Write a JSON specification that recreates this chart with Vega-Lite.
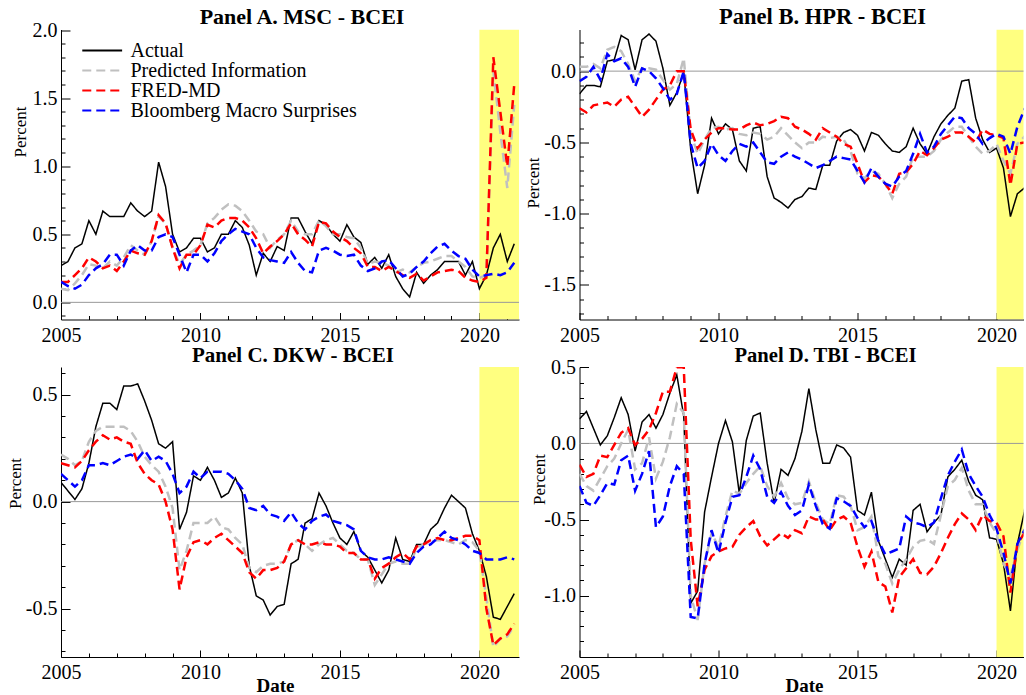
{
"$schema": "https://vega.github.io/schema/vega-lite/v6.json",
"background": "white",
"padding": {"left": 6, "top": 5.5, "right": 0, "bottom": 0},
"columns": 2,
"spacing": {"row": 47.5, "column": 60.5},
"bounds": "flush",
"resolve": {"scale": {"color": "independent", "strokeDash": "independent"}},
"config": {
 "view": {"stroke": null},
 "axis": {"domainColor": "#000000", "domainWidth": 1, "tickColor": "#000000", "tickWidth": 1, "labelColor": "#000000", "labelFont": "Liberation Serif", "labelFontSize": 20, "grid": false, "labelOverlap": false, "labelFlush": false, "labelBound": false, "titleFont": "Liberation Serif", "titleColor": "#000000"},
 "axisX": {"labelPadding": 12.5},
 "axisY": {"labelPadding": 13},
 "title": {"font": "Liberation Serif", "fontSize": 21, "fontWeight": "bold", "color": "#000000", "frame": "group", "anchor": "middle", "baseline": "alphabetic"}
},
"datasets": {
"A": [
{"t":2005,"a":0.27,"g":0.10,"r":0.15,"b":0.15},
{"t":2005.25,"a":0.30,"g":0.09,"r":0.15,"b":0.12},
{"t":2005.5,"a":0.40,"g":0.14,"r":0.20,"b":0.10},
{"t":2005.75,"a":0.43,"g":0.20,"r":0.25,"b":0.13},
{"t":2006,"a":0.60,"g":0.28,"r":0.33,"b":0.20},
{"t":2006.25,"a":0.50,"g":0.27,"r":0.30,"b":0.25},
{"t":2006.5,"a":0.67,"g":0.25,"r":0.25,"b":0.28},
{"t":2006.75,"a":0.63,"g":0.30,"r":0.27,"b":0.35},
{"t":2007,"a":0.63,"g":0.27,"r":0.23,"b":0.35},
{"t":2007.25,"a":0.63,"g":0.33,"r":0.30,"b":0.27},
{"t":2007.5,"a":0.73,"g":0.42,"r":0.38,"b":0.38},
{"t":2007.75,"a":0.67,"g":0.38,"r":0.36,"b":0.42},
{"t":2008,"a":0.63,"g":0.35,"r":0.35,"b":0.38},
{"t":2008.25,"a":0.67,"g":0.45,"r":0.45,"b":0.38},
{"t":2008.5,"a":1.03,"g":0.63,"r":0.64,"b":0.48},
{"t":2008.75,"a":0.85,"g":0.58,"r":0.58,"b":0.50},
{"t":2009,"a":0.50,"g":0.40,"r":0.40,"b":0.48},
{"t":2009.25,"a":0.37,"g":0.28,"r":0.25,"b":0.35},
{"t":2009.5,"a":0.40,"g":0.35,"r":0.35,"b":0.22},
{"t":2009.75,"a":0.47,"g":0.38,"r":0.35,"b":0.35},
{"t":2010,"a":0.47,"g":0.42,"r":0.42,"b":0.35},
{"t":2010.25,"a":0.37,"g":0.58,"r":0.57,"b":0.30},
{"t":2010.5,"a":0.40,"g":0.62,"r":0.55,"b":0.36},
{"t":2010.75,"a":0.50,"g":0.68,"r":0.60,"b":0.45},
{"t":2011,"a":0.50,"g":0.72,"r":0.62,"b":0.50},
{"t":2011.25,"a":0.60,"g":0.71,"r":0.62,"b":0.54},
{"t":2011.5,"a":0.55,"g":0.67,"r":0.60,"b":0.52},
{"t":2011.75,"a":0.42,"g":0.60,"r":0.55,"b":0.50},
{"t":2012,"a":0.20,"g":0.52,"r":0.47,"b":0.40},
{"t":2012.25,"a":0.36,"g":0.50,"r":0.36,"b":0.33},
{"t":2012.5,"a":0.30,"g":0.40,"r":0.41,"b":0.31},
{"t":2012.75,"a":0.41,"g":0.46,"r":0.45,"b":0.30},
{"t":2013,"a":0.38,"g":0.50,"r":0.50,"b":0.29},
{"t":2013.25,"a":0.62,"g":0.60,"r":0.58,"b":0.37},
{"t":2013.5,"a":0.62,"g":0.52,"r":0.50,"b":0.29},
{"t":2013.75,"a":0.52,"g":0.50,"r":0.46,"b":0.23},
{"t":2014,"a":0.43,"g":0.50,"r":0.41,"b":0.22},
{"t":2014.25,"a":0.60,"g":0.60,"r":0.59,"b":0.38},
{"t":2014.5,"a":0.57,"g":0.56,"r":0.58,"b":0.40},
{"t":2014.75,"a":0.50,"g":0.50,"r":0.52,"b":0.38},
{"t":2015,"a":0.45,"g":0.50,"r":0.48,"b":0.35},
{"t":2015.25,"a":0.57,"g":0.48,"r":0.45,"b":0.34},
{"t":2015.5,"a":0.48,"g":0.47,"r":0.40,"b":0.35},
{"t":2015.75,"a":0.44,"g":0.40,"r":0.36,"b":0.27},
{"t":2016,"a":0.28,"g":0.28,"r":0.26,"b":0.23},
{"t":2016.25,"a":0.33,"g":0.30,"r":0.26,"b":0.25},
{"t":2016.5,"a":0.25,"g":0.29,"r":0.23,"b":0.30},
{"t":2016.75,"a":0.35,"g":0.27,"r":0.26,"b":0.31},
{"t":2017,"a":0.19,"g":0.22,"r":0.23,"b":0.25},
{"t":2017.25,"a":0.10,"g":0.24,"r":0.20,"b":0.19},
{"t":2017.5,"a":0.04,"g":0.22,"r":0.18,"b":0.21},
{"t":2017.75,"a":0.22,"g":0.26,"r":0.21,"b":0.26},
{"t":2018,"a":0.14,"g":0.29,"r":0.16,"b":0.30},
{"t":2018.25,"a":0.20,"g":0.30,"r":0.19,"b":0.36},
{"t":2018.5,"a":0.24,"g":0.32,"r":0.22,"b":0.41},
{"t":2018.75,"a":0.30,"g":0.34,"r":0.23,"b":0.43},
{"t":2019,"a":0.30,"g":0.34,"r":0.24,"b":0.38},
{"t":2019.25,"a":0.30,"g":0.30,"r":0.23,"b":0.34},
{"t":2019.5,"a":0.20,"g":0.26,"r":0.18,"b":0.32},
{"t":2019.75,"a":0.30,"g":0.19,"r":0.16,"b":0.24},
{"t":2020,"a":0.10,"g":0.18,"r":0.15,"b":0.19},
{"t":2020.25,"a":0.20,"g":0.20,"r":0.18,"b":0.20},
{"t":2020.5,"a":0.40,"g":1.70,"r":1.80,"b":0.21},
{"t":2020.75,"a":0.50,"g":1.25,"r":1.40,"b":0.20},
{"t":2021,"a":0.30,"g":0.84,"r":1.00,"b":0.22},
{"t":2021.25,"a":0.43,"g":1.45,"r":1.60,"b":0.29}
],
"B": [
{"t":2005,"a":-0.16,"g":0.03,"r":-0.26,"b":-0.07},
{"t":2005.25,"a":-0.10,"g":0.03,"r":-0.29,"b":-0.04},
{"t":2005.5,"a":-0.10,"g":0.05,"r":-0.24,"b":0.03},
{"t":2005.75,"a":-0.11,"g":0.02,"r":-0.23,"b":-0.06},
{"t":2006,"a":0.07,"g":0.15,"r":-0.22,"b":0.12},
{"t":2006.25,"a":0.08,"g":0.17,"r":-0.25,"b":0.07},
{"t":2006.5,"a":0.25,"g":0.14,"r":-0.20,"b":0.09},
{"t":2006.75,"a":0.22,"g":0.05,"r":-0.18,"b":0.03},
{"t":2007,"a":0.01,"g":-0.07,"r":-0.25,"b":-0.11},
{"t":2007.25,"a":0.22,"g":0.02,"r":-0.32,"b":0.02},
{"t":2007.5,"a":0.26,"g":0.02,"r":-0.27,"b":0.00},
{"t":2007.75,"a":0.21,"g":0.01,"r":-0.20,"b":-0.05},
{"t":2008,"a":0.02,"g":-0.06,"r":-0.13,"b":-0.12},
{"t":2008.25,"a":-0.24,"g":-0.13,"r":-0.10,"b":-0.20},
{"t":2008.5,"a":-0.15,"g":-0.09,"r":0.00,"b":-0.16},
{"t":2008.75,"a":-0.01,"g":0.09,"r":0.00,"b":0.00},
{"t":2009,"a":-0.55,"g":-0.44,"r":-0.41,"b":-0.51},
{"t":2009.25,"a":-0.86,"g":-0.58,"r":-0.54,"b":-0.68},
{"t":2009.5,"a":-0.66,"g":-0.48,"r":-0.48,"b":-0.63},
{"t":2009.75,"a":-0.33,"g":-0.40,"r":-0.43,"b":-0.51},
{"t":2010,"a":-0.44,"g":-0.39,"r":-0.40,"b":-0.59},
{"t":2010.25,"a":-0.37,"g":-0.41,"r":-0.40,"b":-0.63},
{"t":2010.5,"a":-0.41,"g":-0.40,"r":-0.41,"b":-0.56},
{"t":2010.75,"a":-0.63,"g":-0.44,"r":-0.41,"b":-0.51},
{"t":2011,"a":-0.70,"g":-0.45,"r":-0.38,"b":-0.53},
{"t":2011.25,"a":-0.40,"g":-0.43,"r":-0.36,"b":-0.50},
{"t":2011.5,"a":-0.39,"g":-0.44,"r":-0.38,"b":-0.57},
{"t":2011.75,"a":-0.74,"g":-0.48,"r":-0.37,"b":-0.64},
{"t":2012,"a":-0.89,"g":-0.46,"r":-0.35,"b":-0.65},
{"t":2012.25,"a":-0.92,"g":-0.40,"r":-0.32,"b":-0.60},
{"t":2012.5,"a":-0.96,"g":-0.45,"r":-0.33,"b":-0.57},
{"t":2012.75,"a":-0.90,"g":-0.50,"r":-0.39,"b":-0.60},
{"t":2013,"a":-0.88,"g":-0.54,"r":-0.41,"b":-0.62},
{"t":2013.25,"a":-0.82,"g":-0.50,"r":-0.44,"b":-0.65},
{"t":2013.5,"a":-0.83,"g":-0.50,"r":-0.48,"b":-0.68},
{"t":2013.75,"a":-0.66,"g":-0.46,"r":-0.40,"b":-0.66},
{"t":2014,"a":-0.66,"g":-0.47,"r":-0.43,"b":-0.63},
{"t":2014.25,"a":-0.49,"g":-0.46,"r":-0.46,"b":-0.60},
{"t":2014.5,"a":-0.43,"g":-0.48,"r":-0.51,"b":-0.61},
{"t":2014.75,"a":-0.41,"g":-0.56,"r":-0.53,"b":-0.62},
{"t":2015,"a":-0.45,"g":-0.72,"r":-0.65,"b":-0.70},
{"t":2015.25,"a":-0.56,"g":-0.75,"r":-0.78,"b":-0.78},
{"t":2015.5,"a":-0.43,"g":-0.70,"r":-0.73,"b":-0.68},
{"t":2015.75,"a":-0.45,"g":-0.72,"r":-0.74,"b":-0.74},
{"t":2016,"a":-0.51,"g":-0.79,"r":-0.79,"b":-0.79},
{"t":2016.25,"a":-0.56,"g":-0.89,"r":-0.86,"b":-0.81},
{"t":2016.5,"a":-0.57,"g":-0.79,"r":-0.72,"b":-0.74},
{"t":2016.75,"a":-0.53,"g":-0.74,"r":-0.71,"b":-0.70},
{"t":2017,"a":-0.40,"g":-0.60,"r":-0.65,"b":-0.58},
{"t":2017.25,"a":-0.51,"g":-0.60,"r":-0.56,"b":-0.44},
{"t":2017.5,"a":-0.58,"g":-0.60,"r":-0.59,"b":-0.57},
{"t":2017.75,"a":-0.46,"g":-0.56,"r":-0.54,"b":-0.53},
{"t":2018,"a":-0.37,"g":-0.48,"r":-0.48,"b":-0.44},
{"t":2018.25,"a":-0.31,"g":-0.43,"r":-0.46,"b":-0.38},
{"t":2018.5,"a":-0.26,"g":-0.39,"r":-0.43,"b":-0.32},
{"t":2018.75,"a":-0.07,"g":-0.39,"r":-0.43,"b":-0.33},
{"t":2019,"a":-0.06,"g":-0.46,"r":-0.46,"b":-0.40},
{"t":2019.25,"a":-0.33,"g":-0.53,"r":-0.50,"b":-0.44},
{"t":2019.5,"a":-0.48,"g":-0.58,"r":-0.41,"b":-0.51},
{"t":2019.75,"a":-0.57,"g":-0.56,"r":-0.44,"b":-0.47},
{"t":2020,"a":-0.54,"g":-0.51,"r":-0.45,"b":-0.44},
{"t":2020.25,"a":-0.68,"g":-0.63,"r":-0.47,"b":-0.46},
{"t":2020.5,"a":-1.02,"g":-0.72,"r":-0.80,"b":-0.58},
{"t":2020.75,"a":-0.86,"g":-0.51,"r":-0.51,"b":-0.39},
{"t":2021,"a":-0.82,"g":-0.46,"r":-0.50,"b":-0.27},
{"t":2021.25,"a":-0.83,"g":-0.42,"r":-0.48,"b":-0.30}
],
"C": [
{"t":2005,"a":0.09,"g":0.22,"r":0.18,"b":0.13},
{"t":2005.25,"a":0.05,"g":0.20,"r":0.17,"b":0.10},
{"t":2005.5,"a":0.01,"g":0.17,"r":0.16,"b":0.07},
{"t":2005.75,"a":0.06,"g":0.19,"r":0.19,"b":0.10},
{"t":2006,"a":0.18,"g":0.28,"r":0.24,"b":0.17},
{"t":2006.25,"a":0.35,"g":0.33,"r":0.28,"b":0.17},
{"t":2006.5,"a":0.46,"g":0.35,"r":0.31,"b":0.18},
{"t":2006.75,"a":0.46,"g":0.35,"r":0.29,"b":0.17},
{"t":2007,"a":0.43,"g":0.35,"r":0.30,"b":0.19},
{"t":2007.25,"a":0.54,"g":0.35,"r":0.28,"b":0.21},
{"t":2007.5,"a":0.54,"g":0.33,"r":0.27,"b":0.22},
{"t":2007.75,"a":0.55,"g":0.28,"r":0.18,"b":0.20},
{"t":2008,"a":0.47,"g":0.21,"r":0.13,"b":0.24},
{"t":2008.25,"a":0.38,"g":0.17,"r":0.10,"b":0.19},
{"t":2008.5,"a":0.27,"g":0.14,"r":0.08,"b":0.21},
{"t":2008.75,"a":0.25,"g":0.07,"r":0.00,"b":0.19},
{"t":2009,"a":0.28,"g":-0.03,"r":-0.13,"b":0.13},
{"t":2009.25,"a":-0.13,"g":-0.32,"r":-0.41,"b":0.04},
{"t":2009.5,"a":-0.05,"g":-0.23,"r":-0.26,"b":0.07},
{"t":2009.75,"a":0.12,"g":-0.10,"r":-0.19,"b":0.14},
{"t":2010,"a":0.10,"g":-0.10,"r":-0.18,"b":0.11},
{"t":2010.25,"a":0.16,"g":-0.10,"r":-0.20,"b":0.14},
{"t":2010.5,"a":0.10,"g":-0.07,"r":-0.17,"b":0.14},
{"t":2010.75,"a":0.02,"g":-0.12,"r":-0.15,"b":0.14},
{"t":2011,"a":0.04,"g":-0.13,"r":-0.18,"b":0.13},
{"t":2011.25,"a":0.11,"g":-0.17,"r":-0.21,"b":0.10},
{"t":2011.5,"a":0.04,"g":-0.20,"r":-0.24,"b":0.06},
{"t":2011.75,"a":-0.30,"g":-0.31,"r":-0.33,"b":-0.03},
{"t":2012,"a":-0.44,"g":-0.33,"r":-0.36,"b":-0.04},
{"t":2012.25,"a":-0.46,"g":-0.30,"r":-0.32,"b":-0.02},
{"t":2012.5,"a":-0.53,"g":-0.29,"r":-0.32,"b":-0.06},
{"t":2012.75,"a":-0.49,"g":-0.29,"r":-0.31,"b":-0.07},
{"t":2013,"a":-0.48,"g":-0.28,"r":-0.28,"b":-0.09},
{"t":2013.25,"a":-0.29,"g":-0.20,"r":-0.20,"b":-0.05},
{"t":2013.5,"a":-0.27,"g":-0.18,"r":-0.18,"b":-0.10},
{"t":2013.75,"a":-0.10,"g":-0.20,"r":-0.20,"b":-0.13},
{"t":2014,"a":-0.08,"g":-0.23,"r":-0.20,"b":-0.09},
{"t":2014.25,"a":0.04,"g":-0.20,"r":-0.19,"b":-0.07},
{"t":2014.5,"a":-0.02,"g":-0.18,"r":-0.20,"b":-0.06},
{"t":2014.75,"a":-0.10,"g":-0.17,"r":-0.20,"b":-0.09},
{"t":2015,"a":-0.17,"g":-0.20,"r":-0.21,"b":-0.10},
{"t":2015.25,"a":-0.20,"g":-0.23,"r":-0.24,"b":-0.11},
{"t":2015.5,"a":-0.14,"g":-0.24,"r":-0.24,"b":-0.13},
{"t":2015.75,"a":-0.23,"g":-0.27,"r":-0.27,"b":-0.23},
{"t":2016,"a":-0.26,"g":-0.27,"r":-0.27,"b":-0.26},
{"t":2016.25,"a":-0.32,"g":-0.39,"r":-0.36,"b":-0.27},
{"t":2016.5,"a":-0.38,"g":-0.34,"r":-0.31,"b":-0.27},
{"t":2016.75,"a":-0.32,"g":-0.29,"r":-0.29,"b":-0.26},
{"t":2017,"a":-0.17,"g":-0.28,"r":-0.26,"b":-0.27},
{"t":2017.25,"a":-0.27,"g":-0.29,"r":-0.24,"b":-0.28},
{"t":2017.5,"a":-0.28,"g":-0.29,"r":-0.27,"b":-0.29},
{"t":2017.75,"a":-0.20,"g":-0.22,"r":-0.21,"b":-0.24},
{"t":2018,"a":-0.20,"g":-0.20,"r":-0.20,"b":-0.21},
{"t":2018.25,"a":-0.13,"g":-0.19,"r":-0.18,"b":-0.20},
{"t":2018.5,"a":-0.10,"g":-0.18,"r":-0.17,"b":-0.17},
{"t":2018.75,"a":-0.03,"g":-0.18,"r":-0.18,"b":-0.14},
{"t":2019,"a":0.03,"g":-0.19,"r":-0.18,"b":-0.17},
{"t":2019.25,"a":0.00,"g":-0.20,"r":-0.17,"b":-0.18},
{"t":2019.5,"a":-0.03,"g":-0.18,"r":-0.16,"b":-0.20},
{"t":2019.75,"a":-0.15,"g":-0.19,"r":-0.16,"b":-0.23},
{"t":2020,"a":-0.23,"g":-0.23,"r":-0.18,"b":-0.24},
{"t":2020.25,"a":-0.35,"g":-0.45,"r":-0.50,"b":-0.27},
{"t":2020.5,"a":-0.54,"g":-0.68,"r":-0.67,"b":-0.27},
{"t":2020.75,"a":-0.55,"g":-0.64,"r":-0.64,"b":-0.27},
{"t":2021,"a":-0.49,"g":-0.63,"r":-0.62,"b":-0.26},
{"t":2021.25,"a":-0.43,"g":-0.58,"r":-0.57,"b":-0.27}
],
"D": [
{"t":2005,"a":0.16,"g":-0.20,"r":-0.14,"b":-0.28},
{"t":2005.25,"a":0.21,"g":-0.28,"r":-0.22,"b":-0.39},
{"t":2005.5,"a":0.10,"g":-0.31,"r":-0.20,"b":-0.41},
{"t":2005.75,"a":-0.01,"g":-0.23,"r":-0.08,"b":-0.34},
{"t":2006,"a":0.05,"g":-0.15,"r":-0.09,"b":-0.26},
{"t":2006.25,"a":0.17,"g":-0.10,"r":-0.01,"b":-0.27},
{"t":2006.5,"a":0.30,"g":0.00,"r":0.07,"b":-0.11},
{"t":2006.75,"a":0.19,"g":0.09,"r":0.10,"b":-0.08},
{"t":2007,"a":-0.05,"g":-0.17,"r":-0.01,"b":-0.31},
{"t":2007.25,"a":0.14,"g":-0.13,"r":0.03,"b":-0.20},
{"t":2007.5,"a":0.19,"g":0.04,"r":0.09,"b":-0.05},
{"t":2007.75,"a":0.10,"g":-0.23,"r":0.20,"b":-0.55},
{"t":2008,"a":0.19,"g":-0.12,"r":0.34,"b":-0.48},
{"t":2008.25,"a":0.33,"g":0.04,"r":0.34,"b":-0.28},
{"t":2008.5,"a":0.45,"g":0.26,"r":0.50,"b":-0.15},
{"t":2008.75,"a":0.18,"g":0.20,"r":0.50,"b":-0.20},
{"t":2009,"a":-1.05,"g":-1.00,"r":-0.63,"b":-1.14},
{"t":2009.25,"a":-0.97,"g":-1.16,"r":-1.07,"b":-1.15},
{"t":2009.5,"a":-0.45,"g":-0.79,"r":-0.83,"b":-0.79},
{"t":2009.75,"a":-0.22,"g":-0.59,"r":-0.74,"b":-0.57},
{"t":2010,"a":0.00,"g":-0.68,"r":-0.71,"b":-0.72},
{"t":2010.25,"a":0.15,"g":-0.48,"r":-0.69,"b":-0.52},
{"t":2010.5,"a":0.01,"g":-0.31,"r":-0.68,"b":-0.35},
{"t":2010.75,"a":-0.33,"g":-0.33,"r":-0.60,"b":-0.34},
{"t":2011,"a":0.02,"g":-0.26,"r":-0.55,"b":-0.22},
{"t":2011.25,"a":0.18,"g":-0.20,"r":-0.51,"b":-0.08},
{"t":2011.5,"a":0.20,"g":-0.15,"r":-0.61,"b":-0.17},
{"t":2011.75,"a":-0.13,"g":-0.28,"r":-0.67,"b":-0.35},
{"t":2012,"a":-0.39,"g":-0.35,"r":-0.63,"b":-0.39},
{"t":2012.25,"a":-0.17,"g":-0.26,"r":-0.59,"b":-0.32},
{"t":2012.5,"a":-0.21,"g":-0.36,"r":-0.62,"b":-0.41},
{"t":2012.75,"a":-0.10,"g":-0.40,"r":-0.57,"b":-0.47},
{"t":2013,"a":0.08,"g":-0.39,"r":-0.59,"b":-0.44},
{"t":2013.25,"a":0.36,"g":-0.25,"r":-0.48,"b":-0.27},
{"t":2013.5,"a":0.09,"g":-0.39,"r":-0.50,"b":-0.41},
{"t":2013.75,"a":-0.13,"g":-0.50,"r":-0.50,"b":-0.53},
{"t":2014,"a":-0.13,"g":-0.53,"r":-0.57,"b":-0.56},
{"t":2014.25,"a":-0.01,"g":-0.34,"r":-0.50,"b":-0.36},
{"t":2014.5,"a":-0.03,"g":-0.35,"r":-0.48,"b":-0.38},
{"t":2014.75,"a":-0.09,"g":-0.41,"r":-0.52,"b":-0.41},
{"t":2015,"a":-0.44,"g":-0.57,"r":-0.68,"b":-0.49},
{"t":2015.25,"a":-0.47,"g":-0.55,"r":-0.81,"b":-0.55},
{"t":2015.5,"a":-0.32,"g":-0.48,"r":-0.71,"b":-0.51},
{"t":2015.75,"a":-0.64,"g":-0.74,"r":-0.91,"b":-0.64},
{"t":2016,"a":-0.76,"g":-0.79,"r":-0.94,"b":-0.73},
{"t":2016.25,"a":-0.88,"g":-0.92,"r":-1.11,"b":-0.71},
{"t":2016.5,"a":-0.76,"g":-0.83,"r":-0.88,"b":-0.69},
{"t":2016.75,"a":-0.80,"g":-0.76,"r":-0.82,"b":-0.48},
{"t":2017,"a":-0.44,"g":-0.68,"r":-0.76,"b":-0.52},
{"t":2017.25,"a":-0.40,"g":-0.64,"r":-0.85,"b":-0.53},
{"t":2017.5,"a":-0.58,"g":-0.63,"r":-0.86,"b":-0.55},
{"t":2017.75,"a":-0.52,"g":-0.66,"r":-0.81,"b":-0.52},
{"t":2018,"a":-0.47,"g":-0.47,"r":-0.72,"b":-0.36},
{"t":2018.25,"a":-0.22,"g":-0.28,"r":-0.62,"b":-0.21},
{"t":2018.5,"a":-0.17,"g":-0.24,"r":-0.53,"b":-0.12},
{"t":2018.75,"a":-0.11,"g":-0.16,"r":-0.46,"b":-0.04},
{"t":2019,"a":-0.25,"g":-0.31,"r":-0.50,"b":-0.20},
{"t":2019.25,"a":-0.34,"g":-0.40,"r":-0.57,"b":-0.28},
{"t":2019.5,"a":-0.37,"g":-0.40,"r":-0.47,"b":-0.35},
{"t":2019.75,"a":-0.62,"g":-0.52,"r":-0.51,"b":-0.47},
{"t":2020,"a":-0.63,"g":-0.59,"r":-0.52,"b":-0.56},
{"t":2020.25,"a":-0.79,"g":-0.79,"r":-0.61,"b":-0.72},
{"t":2020.5,"a":-1.10,"g":-0.87,"r":-0.98,"b":-0.92},
{"t":2020.75,"a":-0.66,"g":-0.70,"r":-0.66,"b":-0.66},
{"t":2021,"a":-0.45,"g":-0.57,"r":-0.59,"b":-0.57},
{"t":2021.25,"a":-0.05,"g":-0.45,"r":-0.50,"b":-0.55}
]
},
"concat": [
{
 "width": 458, "height": 290,
 "title": {"text": "Panel A. MSC - BCEI", "dx": 12, "offset": -9.4, "fontSize": 22},
 "layer": [
  {"data": {"values": [{}]}, "mark": {"type": "rect", "color": "#ffff80", "clip": true},
   "encoding": {"x": {"datum": 2020, "type": "quantitative", "scale": {"domain": [2005, 2021.42], "nice": false, "zero": false}}, "x2": {"datum": 2021.6}}},
  {"data": {"values": [{}]}, "mark": {"type": "rule", "color": "#999999", "strokeWidth": 1},
   "encoding": {"y": {"datum": 0, "type": "quantitative", "scale": {"domain": [-0.126, 2.004], "nice": false, "zero": false}}}},
  {"data": {"name": "A"}, "transform": [{"fold": ["a"], "as": ["s", "v"]}],
   "mark": {"type": "line", "strokeWidth": 1.5, "clip": true},
   "encoding": {
    "x": {"field": "t", "type": "quantitative", "scale": {"domain": [2005, 2021.42], "nice": false, "zero": false},
      "axis": {"values": [2005,2006,2007,2008,2009,2010,2011,2012,2013,2014,2015,2016,2017,2018,2019,2020,2021], "tickCount": 200, "format": "d", "labelOverlap": false, "labelExpr": "datum.value % 5 === 0 ? datum.label : ''", "tickSize": {"condition": {"test": "datum.value % 5 === 0", "value": -7}, "value": -4}, "title": null}},
    "y": {"field": "v", "type": "quantitative", "scale": {"domain": [-0.126, 2.004], "nice": false, "zero": false},
      "axis": {"values": [-0.1,0,0.1,0.2,0.3,0.4,0.5,0.6,0.7,0.8,0.9,1.0,1.1,1.2,1.3,1.4,1.5,1.6,1.7,1.8,1.9,2.0], "tickCount": 200, "labelOverlap": false, "labelExpr": "abs(datum.value*2 - round(datum.value*2)) < 0.001 ? replace(format(datum.value, '.1f'), '−', '-') : ''", "tickSize": {"condition": {"test": "abs(datum.value*2 - round(datum.value*2)) < 0.001", "value": -9}, "value": -4}, "title": "Percent", "titleX": -41, "titleY": 102, "titleAngle": 270, "titleAlign": "center", "titleBaseline": "middle", "titleFontSize": 17, "titleFontWeight": "normal"}},
    "color": {"field": "s", "type": "nominal", "scale": {"domain": ["a","g","r","b"], "range": ["#000000","#c0c0c0","#ff0000","#0000ff"]},
      "legend": {"title": null, "orient": "none", "legendX": 31.2, "legendY": 11, "symbolType": "M-2.3,0H2.3", "symbolSize": 300, "symbolStrokeWidth": 2.2, "labelFont": "Liberation Serif", "labelFontSize": 20, "labelColor": "#000000", "labelOffset": 18.3, "rowPadding": 0, "padding": 0, "labelLimit": 400, "labelExpr": "datum.label == 'a' ? 'Actual' : datum.label == 'g' ? 'Predicted Information' : datum.label == 'r' ? 'FRED-MD' : 'Bloomberg Macro Surprises'"}},
    "strokeDash": {"field": "s", "type": "nominal", "scale": {"domain": ["a","g","r","b"], "range": [[1,0],[9,5],[9,5],[9,5]]},
      "legend": {"title": null, "orient": "none", "legendX": 31.2, "legendY": 11, "symbolType": "M-2.3,0H2.3", "symbolSize": 300, "symbolStrokeWidth": 2.2, "labelFont": "Liberation Serif", "labelFontSize": 20, "labelColor": "#000000", "labelOffset": 18.3, "rowPadding": 0, "padding": 0, "labelLimit": 400, "labelExpr": "datum.label == 'a' ? 'Actual' : datum.label == 'g' ? 'Predicted Information' : datum.label == 'r' ? 'FRED-MD' : 'Bloomberg Macro Surprises'"}}
   }},
  {"data": {"name": "A"}, "transform": [{"fold": ["g","r","b"], "as": ["s", "v"]}],
   "mark": {"type": "line", "strokeWidth": 2.5, "clip": true},
   "encoding": {
    "x": {"field": "t", "type": "quantitative"},
    "y": {"field": "v", "type": "quantitative"},
    "color": {"field": "s", "type": "nominal"},
    "strokeDash": {"field": "s", "type": "nominal"}
   }}
 ]
},
{
 "width": 444, "height": 290,
 "title": {"text": "Panel B. HPR - BCEI", "dx": 21, "offset": 1.5, "fontSize": 22.5},
 "layer": [
  {"data": {"values": [{}]}, "mark": {"type": "rect", "color": "#ffff80", "clip": true},
   "encoding": {"x": {"datum": 2020, "type": "quantitative", "scale": {"domain": [2005, 2020.97], "nice": false, "zero": false}}, "x2": {"datum": 2021.6}}},
  {"data": {"values": [{}]}, "mark": {"type": "rule", "color": "#999999", "strokeWidth": 1},
   "encoding": {"y": {"datum": 0, "type": "quantitative", "scale": {"domain": [-1.742, 0.292], "nice": false, "zero": false}}}},
  {"data": {"name": "B"}, "transform": [{"fold": ["a"], "as": ["s", "v"]}],
   "mark": {"type": "line", "strokeWidth": 1.5, "clip": true},
   "encoding": {
    "x": {"field": "t", "type": "quantitative", "scale": {"domain": [2005, 2020.97], "nice": false, "zero": false},
      "axis": {"values": [2005,2006,2007,2008,2009,2010,2011,2012,2013,2014,2015,2016,2017,2018,2019,2020], "tickCount": 200, "format": "d", "labelOverlap": false, "labelExpr": "datum.value % 5 === 0 ? datum.label : ''", "tickSize": {"condition": {"test": "datum.value % 5 === 0", "value": -7}, "value": -4}, "title": null}},
    "y": {"field": "v", "type": "quantitative", "scale": {"domain": [-1.742, 0.292], "nice": false, "zero": false},
      "axis": {"values": [-1.7,-1.6,-1.5,-1.4,-1.3,-1.2,-1.1,-1.0,-0.9,-0.8,-0.7,-0.6,-0.5,-0.4,-0.3,-0.2,-0.1,0,0.1,0.2], "tickCount": 200, "labelOverlap": false, "labelExpr": "abs(datum.value*2 - round(datum.value*2)) < 0.001 ? replace(format(datum.value, '.1f'), '−', '-') : ''", "tickSize": {"condition": {"test": "abs(datum.value*2 - round(datum.value*2)) < 0.001", "value": -9}, "value": -4}, "title": "Percent", "titleX": -46.5, "titleY": 153, "titleAngle": 270, "titleAlign": "center", "titleBaseline": "middle", "titleFontSize": 17, "titleFontWeight": "normal"}},
    "color": {"field": "s", "type": "nominal", "scale": {"domain": ["a","g","r","b"], "range": ["#000000","#c0c0c0","#ff0000","#0000ff"]}, "legend": null},
    "strokeDash": {"field": "s", "type": "nominal", "scale": {"domain": ["a","g","r","b"], "range": [[1,0],[9,5],[9,5],[9,5]]}, "legend": null}
   }},
  {"data": {"name": "B"}, "transform": [{"fold": ["g","r","b"], "as": ["s", "v"]}],
   "mark": {"type": "line", "strokeWidth": 2.5, "clip": true},
   "encoding": {
    "x": {"field": "t", "type": "quantitative"},
    "y": {"field": "v", "type": "quantitative"},
    "color": {"field": "s", "type": "nominal", "legend": null},
    "strokeDash": {"field": "s", "type": "nominal", "legend": null}
   }}
 ]
},
{
 "width": 458, "height": 290,
 "title": {"text": "Panel C. DKW - BCEI", "dx": 3, "offset": -2.7, "fontSize": 21},
 "layer": [
  {"data": {"values": [{}]}, "mark": {"type": "rect", "color": "#ffff80", "clip": true},
   "encoding": {"x": {"datum": 2020, "type": "quantitative", "scale": {"domain": [2005, 2021.42], "nice": false, "zero": false}}, "x2": {"datum": 2021.6}}},
  {"data": {"values": [{}]}, "mark": {"type": "rule", "color": "#999999", "strokeWidth": 1},
   "encoding": {"y": {"datum": 0, "type": "quantitative", "scale": {"domain": [-0.726, 0.629], "nice": false, "zero": false}}}},
  {"data": {"name": "C"}, "transform": [{"fold": ["a"], "as": ["s", "v"]}],
   "mark": {"type": "line", "strokeWidth": 1.5, "clip": true},
   "encoding": {
    "x": {"field": "t", "type": "quantitative", "scale": {"domain": [2005, 2021.42], "nice": false, "zero": false},
      "axis": {"values": [2005,2006,2007,2008,2009,2010,2011,2012,2013,2014,2015,2016,2017,2018,2019,2020,2021], "tickCount": 200, "format": "d", "labelOverlap": false, "labelExpr": "datum.value % 5 === 0 ? datum.label : ''", "tickSize": {"condition": {"test": "datum.value % 5 === 0", "value": -7}, "value": -4}, "title": "Date", "titleX": 214, "titleY": 28.5, "titleAngle": 0, "titleAlign": "center", "titleBaseline": "middle", "titleFontSize": 19, "titleFontWeight": "bold"}},
    "y": {"field": "v", "type": "quantitative", "scale": {"domain": [-0.726, 0.629], "nice": false, "zero": false},
      "axis": {"values": [-0.7,-0.6,-0.5,-0.4,-0.3,-0.2,-0.1,0,0.1,0.2,0.3,0.4,0.5,0.6], "tickCount": 200, "labelOverlap": false, "labelExpr": "abs(datum.value*2 - round(datum.value*2)) < 0.001 ? replace(format(datum.value, '.1f'), '−', '-') : ''", "tickSize": {"condition": {"test": "abs(datum.value*2 - round(datum.value*2)) < 0.001", "value": -9}, "value": -4}, "title": "Percent", "titleX": -46, "titleY": 116, "titleAngle": 270, "titleAlign": "center", "titleBaseline": "middle", "titleFontSize": 17, "titleFontWeight": "normal"}},
    "color": {"field": "s", "type": "nominal", "scale": {"domain": ["a","g","r","b"], "range": ["#000000","#c0c0c0","#ff0000","#0000ff"]}, "legend": null},
    "strokeDash": {"field": "s", "type": "nominal", "scale": {"domain": ["a","g","r","b"], "range": [[1,0],[9,5],[9,5],[9,5]]}, "legend": null}
   }},
  {"data": {"name": "C"}, "transform": [{"fold": ["g","r","b"], "as": ["s", "v"]}],
   "mark": {"type": "line", "strokeWidth": 2.5, "clip": true},
   "encoding": {
    "x": {"field": "t", "type": "quantitative"},
    "y": {"field": "v", "type": "quantitative"},
    "color": {"field": "s", "type": "nominal", "legend": null},
    "strokeDash": {"field": "s", "type": "nominal", "legend": null}
   }}
 ]
},
{
 "width": 444, "height": 290,
 "title": {"text": "Panel D. TBI - BCEI", "dx": 24, "offset": -8.8, "fontSize": 20.6},
 "layer": [
  {"data": {"values": [{}]}, "mark": {"type": "rect", "color": "#ffff80", "clip": true},
   "encoding": {"x": {"datum": 2020, "type": "quantitative", "scale": {"domain": [2005, 2020.97], "nice": false, "zero": false}}, "x2": {"datum": 2021.6}}},
  {"data": {"values": [{}]}, "mark": {"type": "rule", "color": "#999999", "strokeWidth": 1},
   "encoding": {"y": {"datum": 0, "type": "quantitative", "scale": {"domain": [-1.403, 0.502], "nice": false, "zero": false}}}},
  {"data": {"name": "D"}, "transform": [{"fold": ["a"], "as": ["s", "v"]}],
   "mark": {"type": "line", "strokeWidth": 1.5, "clip": true},
   "encoding": {
    "x": {"field": "t", "type": "quantitative", "scale": {"domain": [2005, 2020.97], "nice": false, "zero": false},
      "axis": {"values": [2005,2006,2007,2008,2009,2010,2011,2012,2013,2014,2015,2016,2017,2018,2019,2020], "tickCount": 200, "format": "d", "labelOverlap": false, "labelExpr": "datum.value % 5 === 0 ? datum.label : ''", "tickSize": {"condition": {"test": "datum.value % 5 === 0", "value": -7}, "value": -4}, "title": "Date", "titleX": 224.5, "titleY": 28.5, "titleAngle": 0, "titleAlign": "center", "titleBaseline": "middle", "titleFontSize": 19, "titleFontWeight": "bold"}},
    "y": {"field": "v", "type": "quantitative", "scale": {"domain": [-1.403, 0.502], "nice": false, "zero": false},
      "axis": {"values": [-1.4,-1.3,-1.2,-1.1,-1.0,-0.9,-0.8,-0.7,-0.6,-0.5,-0.4,-0.3,-0.2,-0.1,0,0.1,0.2,0.3,0.4,0.5], "tickCount": 200, "labelOverlap": false, "labelExpr": "abs(datum.value*2 - round(datum.value*2)) < 0.001 ? replace(format(datum.value, '.1f'), '−', '-') : ''", "tickSize": {"condition": {"test": "abs(datum.value*2 - round(datum.value*2)) < 0.001", "value": -9}, "value": -4}, "title": "Percent", "titleX": -40.5, "titleY": 112, "titleAngle": 270, "titleAlign": "center", "titleBaseline": "middle", "titleFontSize": 17, "titleFontWeight": "normal"}},
    "color": {"field": "s", "type": "nominal", "scale": {"domain": ["a","g","r","b"], "range": ["#000000","#c0c0c0","#ff0000","#0000ff"]}, "legend": null},
    "strokeDash": {"field": "s", "type": "nominal", "scale": {"domain": ["a","g","r","b"], "range": [[1,0],[9,5],[9,5],[9,5]]}, "legend": null}
   }},
  {"data": {"name": "D"}, "transform": [{"fold": ["g","r","b"], "as": ["s", "v"]}],
   "mark": {"type": "line", "strokeWidth": 2.5, "clip": true},
   "encoding": {
    "x": {"field": "t", "type": "quantitative"},
    "y": {"field": "v", "type": "quantitative"},
    "color": {"field": "s", "type": "nominal", "legend": null},
    "strokeDash": {"field": "s", "type": "nominal", "legend": null}
   }}
 ]
}
]
}
